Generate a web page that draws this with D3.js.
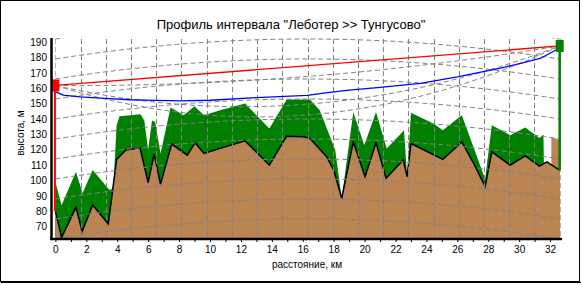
<!DOCTYPE html>
<html><head><meta charset="utf-8">
<script src="https://cdn.jsdelivr.net/npm/d3@7"></script>
<style>
body{margin:0;background:#fff}
text{font-family:"Liberation Sans",Arial,sans-serif}
</style>
</head><body><div id="chart"></div>
<script>
// --- data ---
const titleText = 'Профиль интервала "Леботер >> Тунгусово"';
const pathLen = 32.62;                 // km
const antA = 161.8, antB = 187.5;      // antenna heights, m

const groundKm = [0,0.4,1.33,1.73,2.41,3.42,3.96,4.56,5.47,6.0,6.38,6.8,7.52,8.53,9.03,9.61,10.65,12.27,13.84,14.96,16.04,16.47,17.55,18.0,18.52,19.27,20.03,20.74,21.39,22.5,22.75,23.0,25.06,26.29,27.0,27.8,28.23,29.42,30.39,31.31,31.79,32.62];
const groundM  = [80,63,82.6,66.8,84.1,71.8,113.7,119.8,121.3,98.6,117,97.7,123.7,116.5,124.5,117.6,120.9,125.8,110,128.8,128.4,127.4,115.4,106.8,88.4,125.1,102.5,124.5,101.4,113.3,102.5,124.1,113.7,125.1,112.2,96,118.7,110,116,109.4,112.2,106.8];

const clutterKm = [0,0.4,1.33,1.76,2.41,3.5,3.75,3.96,4.15,5.5,5.75,6.0,6.25,6.45,6.8,7.45,8.3,9.0,9.61,10.65,12.27,13.84,14.96,16.47,17.1,18.1,18.52,19.27,19.98,20.74,21.43,22.3,22.55,22.75,23.0,24.45,25.06,26.29,27.8,28.23,29.42,30.39,31.31,31.57,31.6,32.62];
const clutterM  = [99,84,105.7,91.7,106.8,93.8,95,136,141.8,143.1,139,119.8,139,138,117.6,147.5,142.5,148.3,142.5,145.7,150,133.8,152.6,152.6,145.7,119.8,88.4,144.6,123,144.6,120.9,130,132.7,102.5,144,137.1,132.7,142.5,101,136,129.5,134.5,127.7,129.9,110,106.8];

const buildKm = [32.08,32.62];
const buildM  = [128.4,126.2];

const losKm = [0,0.5,1.6,3.2,4.8,6.5,8.1,10,13,16.3,17.6,19,21,23.6,26,28.8,30.1,31.4,32.4,32.62];
const losM  = [157.8,155.5,154.4,153.4,152.5,152.1,151.8,152.2,153.9,155.4,157.2,158.8,160.6,163.2,167.4,173,176.2,179.5,185,187.5];

const dashOffsets = [7,25,32];         // mid-path drop of dashed sight curves, m
const bulgeMid = 13;                   // earth bulge at mid path, m

const xTicks = d3.range(0,33,1);
const yTicks = d3.range(70,191,10);

// --- canvas ---
const W = 582, H = 285;
const svg = d3.select("#chart").append("svg").attr("width",W).attr("height",H);

const x = d3.scaleLinear().domain([-0.22,32.77]).range([52,562]);
const y = d3.scaleLinear().domain([62,192]).range([239,39]);
const yB = y(62), yT = y(192);

// frame
svg.append("rect").attr("x",0.5).attr("y",0.5).attr("width",579).attr("height",281)
  .attr("fill","#fff").attr("stroke","#000");
svg.append("line").attr("x1",1).attr("x2",581).attr("y1",282.5).attr("y2",282.5).attr("stroke","#000");

svg.append("text").attr("x",291).attr("y",29).attr("text-anchor","middle")
  .attr("font-size",13).text(titleText);

const pts = (ks,ms) => ks.map((k,i)=>[k,ms[i]]);
const bulge = k => bulgeMid*4*k*(pathLen-k)/(pathLen*pathLen);
const sight = k => antA + (antB-antA)*k/pathLen;

// clutter (green) then ground (brown)
const area = d3.area().x(d=>x(d[0])).y0(yB).y1(d=>y(d[1]));
svg.append("path").attr("d",area(pts(clutterKm,clutterM))).attr("fill","#007f00");
svg.append("path").attr("d",area(pts(groundKm,groundM))).attr("fill","#bb8553");
svg.append("path").attr("d",area(pts(buildKm,buildM))).attr("fill","#bb8553");
svg.append("path").attr("d",d3.line().x(d=>x(d[0])).y(d=>y(d[1]))(pts(groundKm,groundM)))
  .attr("fill","none").attr("stroke","#000").attr("stroke-width",1.5);

// grid
svg.append("clipPath").attr("id","pc").append("rect")
  .attr("x",x(0)).attr("y",yT-1).attr("width",x(pathLen)-x(0)+1).attr("height",yB-yT+1);
const grid = svg.append("g").attr("clip-path","url(#pc)")
  .attr("fill","none").attr("stroke","#808080").attr("stroke-width",1).attr("stroke-dasharray","5,3");
d3.range(21).forEach(i=>{
  const px = Math.round(x(i*pathLen/20))+0.5;
  grid.append("line").attr("x1",px).attr("x2",px).attr("y1",yT).attr("y2",yB);
});
const samp = d3.range(0,101).map(i=>i*pathLen/100);
const gl = d3.line().x(d=>x(d[0])).y(d=>y(d[1]));
d3.range(11).forEach(j=>{
  const lev = 62 + j*13;
  grid.append("path").attr("d",gl(samp.map(k=>[k,lev+bulge(k)])));
});
dashOffsets.forEach(o=>{
  grid.append("path").attr("d",gl(samp.map(k=>[k,sight(k)-o*bulge(k)/bulgeMid])));
});

// sight lines
svg.append("path").attr("d",gl([[0,antA],[pathLen,antB]]))
  .attr("fill","none").attr("stroke","#ff0000").attr("stroke-width",1.3);
svg.append("path").attr("d",gl(pts(losKm,losM)))
  .attr("fill","none").attr("stroke","#0000ff").attr("stroke-width",1.3);

// masts and antennas
svg.append("line").attr("x1",x(0)-0.5).attr("x2",x(0)-0.5).attr("y1",y(groundM[0])).attr("y2",y(antA))
  .attr("stroke","#ff0000").attr("stroke-width",2);
svg.append("rect").attr("x",x(0)-4).attr("y",y(antA)-6).attr("width",8).attr("height",12).attr("fill","#ff0000");
svg.append("line").attr("x1",x(pathLen)).attr("x2",x(pathLen)).attr("y1",y(groundM[groundM.length-1])).attr("y2",y(antB))
  .attr("stroke","#007f00").attr("stroke-width",2.5);
svg.append("rect").attr("x",x(pathLen)-4).attr("y",y(antB)-6).attr("width",8).attr("height",12).attr("fill","#007f00");

// axes
const ax = svg.append("g").attr("transform",`translate(0,${yB})`)
  .call(d3.axisBottom(x).tickValues(xTicks).tickSize(3).tickPadding(2)
    .tickFormat(d => d%2 ? "" : d));
ax.select(".domain").remove();
ax.selectAll("text").attr("font-size",10).attr("font-family","Liberation Sans, Arial").attr("dy","0.9em");
ax.selectAll("line").attr("stroke","#000");

const ay = svg.append("g").attr("transform",`translate(51,0)`)
  .call(d3.axisLeft(y).tickValues(yTicks).tickSize(0).tickPadding(4));
ay.select(".domain").remove();
ay.selectAll("text").attr("font-size",10).attr("font-family","Liberation Sans, Arial");

svg.append("line").attr("x1",51.5).attr("x2",51.5).attr("y1",yT-1).attr("y2",yB+1)
  .attr("stroke","#000").attr("stroke-width",2.5);
svg.append("line").attr("x1",50).attr("x2",562).attr("y1",yB).attr("y2",yB)
  .attr("stroke","#000").attr("stroke-width",2.5);

svg.append("text").attr("transform","translate(24,133) rotate(-90)")
  .attr("text-anchor","middle").attr("font-size",10).text("высота, м");
svg.append("text").attr("x",307).attr("y",268).attr("text-anchor","middle")
  .attr("font-size",10).text("расстояние, км");
</script>
</body></html>
